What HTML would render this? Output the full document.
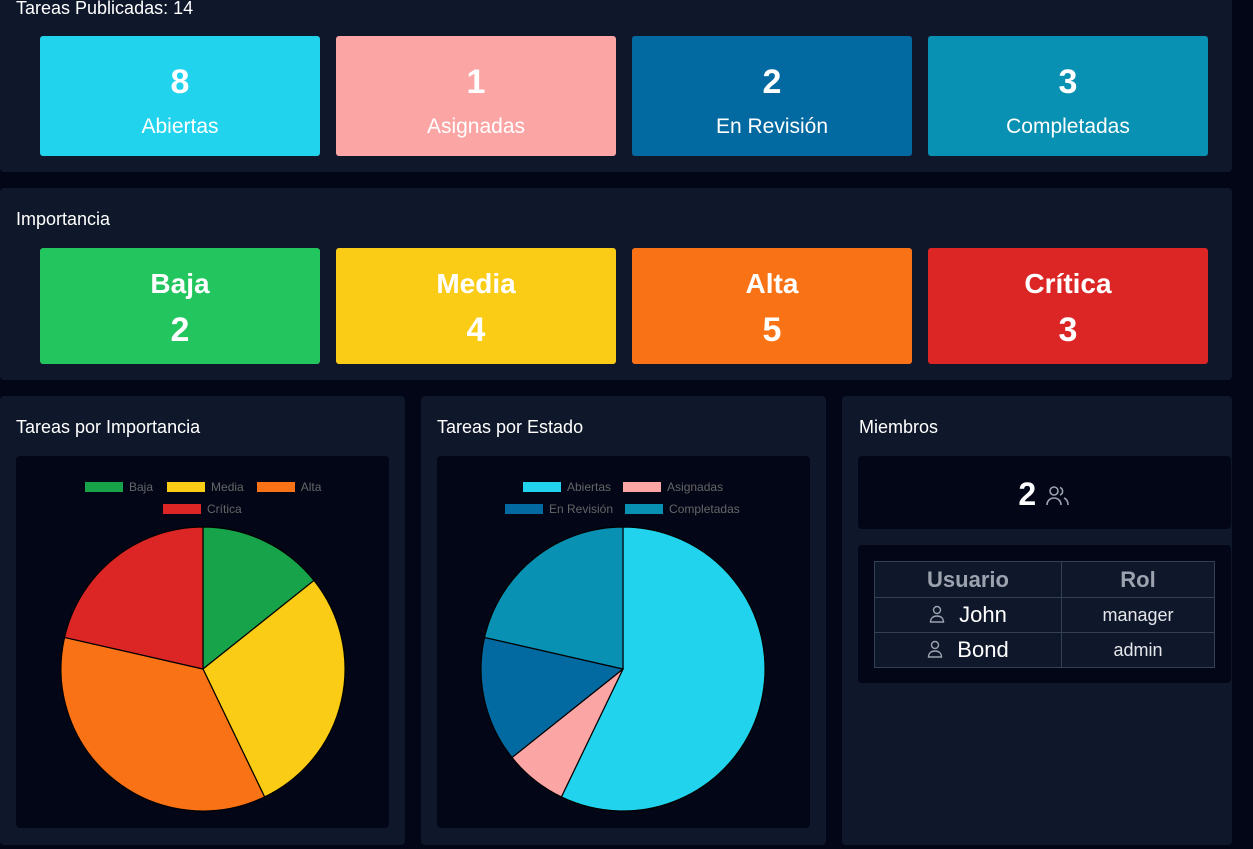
<!DOCTYPE html>
<html><head><meta charset="utf-8">
<style>
*{box-sizing:border-box;margin:0;padding:0}
body{width:1253px;height:849px;background:#020617;font-family:"Liberation Sans",sans-serif;color:#fff;position:relative;overflow:hidden}
.panel{position:absolute;background:#0f172a;border-radius:4px}
.title{position:absolute;font-size:18px;color:#fff}
.card{position:absolute;width:280px;border-radius:3px;text-align:center;color:#fff}
.inner{position:absolute;background:#020617;border-radius:4px}
.leg{position:absolute;font-size:12px;color:#666;white-space:nowrap}
.leg span.b{display:inline-block;width:38px;height:10px;vertical-align:-1px;margin-right:6px}
table{border-collapse:collapse;position:absolute;left:874px;top:561px;width:341px;background:#0f172a}
td,th{border:1px solid #334155;text-align:center}
th{height:36px;font-size:22px;color:#9ca3af}
td{height:35px}
.usr{vertical-align:-1px;margin-right:14px}
</style></head><body>
<div class="panel" style="left:0;top:-10px;width:1232px;height:182px"></div>
<div class="title" style="left:16px;top:-2px">Tareas Publicadas: 14</div>
<div class="card" style="left:40px;top:36px;height:120px;background:#22d3ee"><div style="font-size:34px;font-weight:bold;margin-top:27px">8</div><div style="font-size:21px;margin-top:13px">Abiertas</div></div>
<div class="card" style="left:336px;top:36px;height:120px;background:#fca5a5"><div style="font-size:34px;font-weight:bold;margin-top:27px">1</div><div style="font-size:21px;margin-top:13px">Asignadas</div></div>
<div class="card" style="left:632px;top:36px;height:120px;background:#0369a1"><div style="font-size:34px;font-weight:bold;margin-top:27px">2</div><div style="font-size:21px;margin-top:13px">En Revisión</div></div>
<div class="card" style="left:928px;top:36px;height:120px;background:#0891b2"><div style="font-size:34px;font-weight:bold;margin-top:27px">3</div><div style="font-size:21px;margin-top:13px">Completadas</div></div>

<div class="panel" style="left:0;top:188px;width:1232px;height:192px"></div>
<div class="title" style="left:16px;top:209px">Importancia</div>
<div class="card" style="left:40px;top:248px;height:116px;background:#22c55e"><div style="font-size:28px;font-weight:bold;margin-top:20px">Baja</div><div style="font-size:34px;font-weight:bold;margin-top:11px">2</div></div>
<div class="card" style="left:336px;top:248px;height:116px;background:#facc15"><div style="font-size:28px;font-weight:bold;margin-top:20px">Media</div><div style="font-size:34px;font-weight:bold;margin-top:11px">4</div></div>
<div class="card" style="left:632px;top:248px;height:116px;background:#f97316"><div style="font-size:28px;font-weight:bold;margin-top:20px">Alta</div><div style="font-size:34px;font-weight:bold;margin-top:11px">5</div></div>
<div class="card" style="left:928px;top:248px;height:116px;background:#dc2626"><div style="font-size:28px;font-weight:bold;margin-top:20px">Crítica</div><div style="font-size:34px;font-weight:bold;margin-top:11px">3</div></div>

<div class="panel" style="left:0;top:396px;width:405px;height:449px"></div>
<div class="title" style="left:16px;top:417px">Tareas por Importancia</div>
<div class="inner" style="left:16px;top:456px;width:373px;height:372px"></div>
<div class="leg" style="left:85px;top:480px"><span class="b" style="background:#16a34a"></span>Baja<span class="b" style="background:#facc15;margin-left:14px"></span>Media<span class="b" style="background:#f97316;margin-left:13px"></span>Alta</div>
<div class="leg" style="left:163px;top:502px"><span class="b" style="background:#dc2626"></span>Crítica</div>
<svg id="pie1" style="position:absolute;left:0;top:0" width="1253" height="849"></svg>

<div class="panel" style="left:421px;top:396px;width:405px;height:449px"></div>
<div class="title" style="left:437px;top:417px">Tareas por Estado</div>
<div class="inner" style="left:437px;top:456px;width:373px;height:372px"></div>
<div class="leg" style="left:523px;top:480px"><span class="b" style="background:#22d3ee"></span>Abiertas<span class="b" style="background:#fca5a5;margin-left:12px"></span>Asignadas</div>
<div class="leg" style="left:505px;top:502px"><span class="b" style="background:#0369a1"></span>En Revisión<span class="b" style="background:#0891b2;margin-left:12px"></span>Completadas</div>
<svg id="pie2" style="position:absolute;left:0;top:0" width="1253" height="849"></svg>

<div class="panel" style="left:842px;top:396px;width:390px;height:449px"></div>
<div class="title" style="left:859px;top:417px">Miembros</div>
<div class="inner" style="left:858px;top:456px;width:373px;height:73px;text-align:center"><span style="font-size:32px;font-weight:bold;line-height:76px">2</span>
<svg width="26" height="22" viewBox="0 0 26 22" style="vertical-align:-2px;margin-left:4px" fill="none" stroke="#9ca3af" stroke-width="1.6"><circle cx="9" cy="6" r="4"/><path d="M2 20c0-4 3-7 7-7s7 3 7 7"/><path d="M15 2.5a4 4 0 0 1 0 7.5M19 13c2.5 1 4 3.5 4 7"/></svg></div>
<div class="inner" style="left:858px;top:545px;width:373px;height:138px"></div>
<table>
<tr><th style="width:187px">Usuario</th><th>Rol</th></tr>
<tr><td style="font-size:22px"><svg class="usr" width="16" height="18" viewBox="0 0 16 18" fill="none" stroke="#9ca3af" stroke-width="1.4"><circle cx="8" cy="5" r="3.5"/><path d="M1.5 17c0-4 3-6 6.5-6s6.5 2 6.5 6z"/></svg>John</td><td style="font-size:18px;color:#e5e7eb">manager</td></tr>
<tr><td style="font-size:22px"><svg class="usr" width="16" height="18" viewBox="0 0 16 18" fill="none" stroke="#9ca3af" stroke-width="1.4"><circle cx="8" cy="5" r="3.5"/><path d="M1.5 17c0-4 3-6 6.5-6s6.5 2 6.5 6z"/></svg>Bond</td><td style="font-size:18px;color:#e5e7eb">admin</td></tr>
</table>

<script>
const impLabels=["Baja","Media","Alta","Crítica"];
const impValues=[2,4,5,3];
const impColors=["#16a34a","#facc15","#f97316","#dc2626"];
const estLabels=["Abiertas","Asignadas","En Revisión","Completadas"];
const estValues=[8,1,2,3];
const estColors=["#22d3ee","#fca5a5","#0369a1","#0891b2"];
function pie(svgId,vals,cols,labels,cx,cy,r,prefix){
  const svg=document.getElementById(svgId);
  const tot=vals.reduce((a,b)=>a+b,0);
  let a=-Math.PI/2;
  vals.forEach((v,i)=>{
    const a2=a+v/tot*2*Math.PI;
    const x1=cx+r*Math.cos(a),y1=cy+r*Math.sin(a),x2=cx+r*Math.cos(a2),y2=cy+r*Math.sin(a2);
    const p=document.createElementNS("http://www.w3.org/2000/svg","path");
    p.setAttribute("d",`M${cx},${cy}L${x1},${y1}A${r},${r} 0 ${a2-a>Math.PI?1:0} 1 ${x2},${y2}Z`);
    p.setAttribute("fill",cols[i]);p.setAttribute("stroke","#000");p.setAttribute("stroke-width","1.2");
    
    
    svg.appendChild(p);a=a2;
  });
}
pie("pie1",impValues,impColors,impLabels,203,669,142,"importance");
pie("pie2",estValues,estColors,estLabels,623,669,142,"status");
</script>
</body></html>
